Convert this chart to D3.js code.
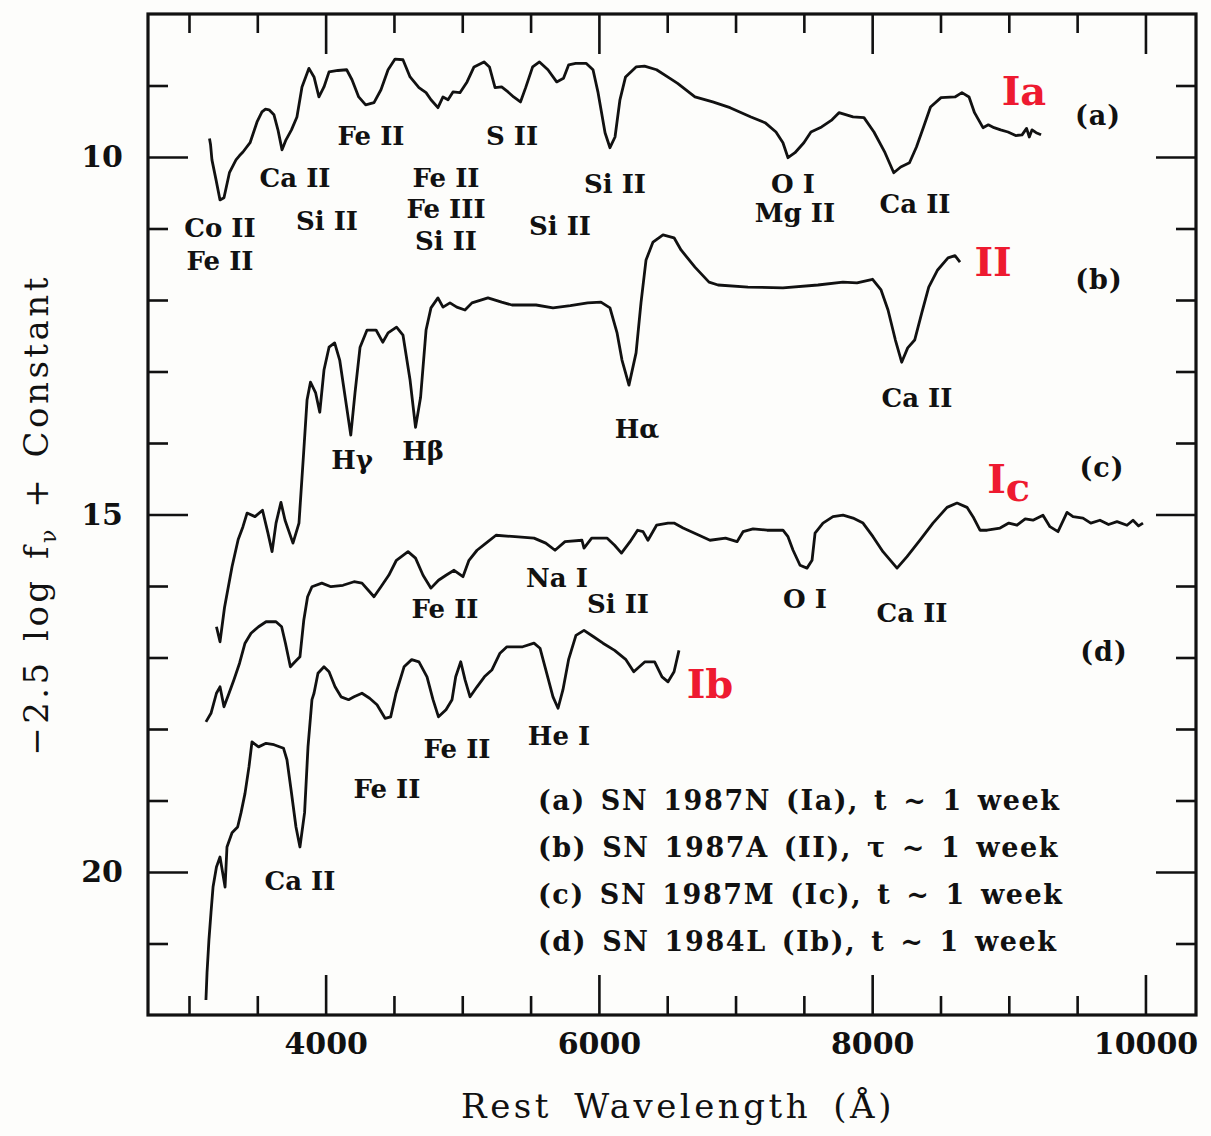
<!DOCTYPE html>
<html>
<head>
<meta charset="utf-8">
<script src="https://cdn.jsdelivr.net/npm/d3@7"></script>
<style>
body { margin: 0; background: #fdfdfb; }
text { font-family: "DejaVu Serif", serif; fill: #111; }
</style>
</head>
<body>
<div id="container"></div>
<script>
// spectra: [rest wavelength (A), -2.5 log f_nu + const]
const specA = [[3150,9.74],[3158,9.83],[3168,10.04],[3198,10.32],[3227,10.60],[3256,10.57],[3296,10.22],[3344,10.04],
    [3370,9.98],[3395,9.93],[3447,9.80],[3498,9.51],[3534,9.37],[3560,9.33],[3586,9.34],[3622,9.41],[3651,9.62],[3681,9.90],
    [3710,9.76],[3750,9.62],[3790,9.44],[3827,9.02],[3878,8.76],[3915,8.88],[3951,9.16],[3988,9.02],[4025,8.81],
    [4090,8.79],[4154,8.78],[4193,8.92],[4242,9.16],[4293,9.27],[4354,9.24],[4405,9.06],[4457,8.78],[4508,8.63],
    [4566,8.64],[4618,8.88],[4683,9.03],[4735,9.10],[4771,9.20],[4822,9.31],[4859,9.16],[4896,9.20],[4932,9.09],
    [4983,9.10],[5035,8.95],[5086,8.74],[5159,8.67],[5199,8.74],[5240,9.03],[5288,9.02],[5335,9.09],[5376,9.16],
    [5426,9.23],[5464,9.03],[5515,8.74],[5565,8.67],[5627,8.78],[5691,8.95],[5741,8.90],[5779,8.71],[5830,8.69],
    [5906,8.69],[5957,8.78],[5994,9.10],[6045,9.66],[6081,9.87],[6118,9.72],[6154,9.20],[6195,8.88],[6272,8.74],
    [6334,8.73],[6422,8.78],[6520,8.90],[6576,8.97],[6703,9.16],[6833,9.23],[6960,9.31],[7113,9.44],[7216,9.52],
    [7296,9.65],[7347,9.80],[7384,10.01],[7435,9.94],[7500,9.80],[7552,9.65],[7630,9.58],[7706,9.48],[7757,9.38],
    [7860,9.44],[7940,9.45],[8013,9.65],[8094,9.94],[8158,10.22],[8209,10.14],[8273,10.08],[8324,9.86],[8376,9.58],
    [8427,9.30],[8504,9.17],[8606,9.16],[8657,9.10],[8709,9.16],[8749,9.38],[8811,9.59],[8850,9.55],[8892,9.59],
    [8940,9.62],[8994,9.65],[9050,9.70],[9097,9.69],[9130,9.60],[9150,9.72],[9170,9.62],[9200,9.66],[9236,9.69]];

const specB = [[3201,16.57],[3227,16.78],[3260,16.30],[3315,15.73],[3360,15.35],[3395,15.17],[3425,14.98],[3483,15.03],
    [3538,14.94],[3578,15.26],[3608,15.52],[3637,15.12],[3673,14.83],[3703,15.08],[3761,15.40],[3805,15.12],
    [3839,14.14],[3864,13.40],[3889,13.15],[3927,13.30],[3957,13.57],[3988,12.98],[4025,12.66],[4066,12.60],
    [4103,12.84],[4154,13.50],[4184,13.89],[4215,13.30],[4252,12.66],[4303,12.42],[4369,12.42],[4418,12.59],
    [4457,12.46],[4519,12.38],[4566,12.49],[4618,13.12],[4658,13.78],[4695,13.36],[4735,12.42],[4771,12.11],
    [4822,11.97],[4859,12.10],[4910,12.04],[4960,12.10],[5020,12.14],[5071,12.04],[5188,11.97],[5288,12.03],
    [5364,12.07],[5540,12.07],[5664,12.11],[5791,12.08],[5918,12.04],[6015,12.03],[6081,12.11],[6133,12.46],
    [6169,12.84],[6220,13.19],[6272,12.74],[6308,12.04],[6345,11.44],[6396,11.19],[6469,11.09],[6550,11.13],
    [6601,11.30],[6703,11.54],[6806,11.75],[6872,11.79],[7091,11.82],[7347,11.83],[7603,11.79],[7786,11.75],
    [7889,11.76],[8003,11.71],[8065,11.86],[8116,12.14],[8170,12.56],[8216,12.87],[8260,12.67],[8311,12.56],
    [8363,12.18],[8414,11.82],[8479,11.58],[8555,11.41],[8606,11.38],[8643,11.47]];

const specC = [[3124,17.90],[3161,17.78],[3201,17.50],[3227,17.41],[3256,17.69],[3293,17.50],[3329,17.31],[3370,17.08],
    [3410,16.80],[3454,16.66],[3509,16.57],[3564,16.50],[3637,16.50],[3678,16.57],[3706,16.80],[3742,17.13],
    [3776,17.06],[3812,16.99],[3840,16.48],[3868,16.15],[3900,16.01],[3972,15.96],[4039,16.01],[4127,15.99],
    [4208,15.94],[4266,15.96],[4322,16.08],[4354,16.15],[4405,16.01],[4462,15.85],[4518,15.64],[4603,15.52],
    [4658,15.61],[4713,15.85],[4771,16.03],[4826,15.92],[4881,15.85],[4940,15.78],[5005,15.87],[5049,15.64],
    [5108,15.50],[5174,15.40],[5247,15.29],[5386,15.31],[5525,15.33],[5611,15.40],[5679,15.50],[5752,15.38],
    [5876,15.36],[5891,15.47],[5947,15.33],[6059,15.33],[6115,15.43],[6165,15.54],[6228,15.38],[6283,15.22],
    [6323,15.24],[6359,15.36],[6422,15.15],[6506,15.12],[6550,15.12],[6616,15.19],[6733,15.29],[6813,15.36],
    [6927,15.33],[7011,15.38],[7055,15.24],[7128,15.20],[7231,15.22],[7347,15.22],[7384,15.31],[7421,15.50],
    [7472,15.71],[7523,15.75],[7560,15.64],[7582,15.26],[7640,15.12],[7713,15.03],[7787,15.01],[7860,15.05],
    [7933,15.12],[8006,15.31],[8079,15.52],[8182,15.75],[8255,15.59],[8350,15.36],[8445,15.12],[8548,14.90],
    [8621,14.84],[8694,14.90],[8738,15.03],[8789,15.22],[8841,15.22],[8936,15.19],[9000,15.12],[9060,15.15],
    [9120,15.06],[9177,15.08],[9250,15.01],[9301,15.17],[9360,15.24],[9426,14.97],[9470,15.03],[9543,15.05],
    [9600,15.12],[9667,15.08],[9730,15.14],[9792,15.10],[9865,15.15],[9909,15.08],[9950,15.16],[9982,15.12]];

const specD = [[3124,21.79],[3132,21.41],[3146,20.95],[3161,20.57],[3176,20.21],[3201,19.93],[3227,19.79],[3264,20.21],
    [3278,19.65],[3315,19.45],[3356,19.37],[3381,19.17],[3410,18.90],[3439,18.53],[3461,18.18],[3509,18.25],
    [3564,18.20],[3622,18.22],[3692,18.27],[3717,18.43],[3747,18.85],[3783,19.37],[3812,19.65],[3846,19.17],
    [3871,18.25],[3900,17.59],[3915,17.50],[3944,17.22],[3988,17.13],[4025,17.20],[4069,17.41],[4113,17.55],
    [4168,17.59],[4208,17.55],[4266,17.50],[4322,17.57],[4376,17.66],[4435,17.85],[4476,17.83],[4515,17.50],
    [4574,17.13],[4630,17.03],[4683,17.06],[4742,17.27],[4786,17.59],[4826,17.83],[4881,17.73],[4925,17.59],
    [4952,17.27],[4989,17.06],[5020,17.31],[5057,17.55],[5108,17.41],[5162,17.27],[5218,17.17],[5276,16.94],
    [5327,16.85],[5442,16.85],[5525,16.80],[5569,16.87],[5611,17.17],[5664,17.55],[5701,17.71],[5737,17.45],
    [5778,17.03],[5832,16.69],[5891,16.62],[5961,16.71],[6030,16.80],[6115,16.90],[6198,17.03],[6255,17.20],
    [6337,17.06],[6408,17.06],[6462,17.27],[6506,17.34],[6550,17.20],[6586,16.90]];

const spectra = [specA, specB, specC, specD];

// line identifications: [text, wavelength, magnitude of baseline]
const lineLabels = [
    ["Fe II", 4332, 9.83], ["S II", 5364, 9.83], ["Ca II", 3776, 10.42], ["Fe II", 4881, 10.42],
    ["Si II", 6118, 10.50], ["Fe III", 4881, 10.85], ["Co II", 3227, 11.12], ["Si II", 4010, 11.02],
    ["Si II", 4881, 11.30], ["Si II", 5715, 11.09], ["Fe II", 3227, 11.58], ["O I", 7421, 10.50],
    ["Mg II", 7435, 10.91], ["Ca II", 8314, 10.78],
    ["Hγ", 4193, 14.36], ["Hβ", 4713, 14.24], ["Hα", 6279, 13.93], ["Ca II", 8328, 13.50],
    ["Na I", 5693, 16.01], ["Fe II", 4874, 16.45], ["Si II", 6140, 16.38], ["O I", 7508, 16.31], ["Ca II", 8292, 16.50],
    ["He I", 5708, 18.22], ["Fe II", 4962, 18.41], ["Fe II", 4449, 18.97], ["Ca II", 3812, 20.25]
];

const panelLabels = [["(a)", 9653, 9.55], ["(b)", 9660, 11.84], ["(c)", 9682, 14.47], ["(d)", 9697, 17.05]];
const typeLabels = [["Ia", 9111, 9.27], ["II", 8885, 11.66], ["I", 8999, 14.70, "c"], ["Ib", 6813, 17.57]];

const legendLines = [
    "(a) SN 1987N (Ia), t ~ 1 week",
    "(b) SN 1987A (II), τ ~ 1 week",
    "(c) SN 1987M (Ic), t ~ 1 week",
    "(d) SN 1984L (Ib), t ~ 1 week"
];

const xMajor = [4000, 6000, 8000, 10000];
const xMinor = [3000, 3500, 4500, 5000, 5500, 6500, 7000, 7500, 8500, 9000, 9500];
const yMajor = [10, 15, 20];
const yMinor = [9, 11, 12, 13, 14, 16, 17, 18, 19, 21];

function chart() {
    var width = 1211, height = 1136;
    var left = 148, right = 1196, top = 14, bottom = 1015;

    var x = d3.scaleLinear().domain([2700, 10370]).range([left, right]);
    var y = d3.scaleLinear().domain([8, 22]).range([top, bottom]);

    const svg = d3.select("div#container").append("svg")
        .attr("width", width)
        .attr("height", height)
        .attr("viewBox", [0, 0, width, height]);

    svg.append("rect").attr("width", width).attr("height", height).attr("fill", "#fdfdfb");

    // ticks, all pointing into the box
    function ticks(axis, values, size, pos, labels) {
        var g = svg.append("g")
            .attr("transform", pos)
            .call(axis.tickValues(values).tickSize(-size).tickPadding(labels ? 18 : 0)
                .tickFormat(labels ? d3.format("d") : ""));
        g.select(".domain").remove();
        g.selectAll("line").attr("stroke", "#111").attr("stroke-width", 2.6);
        g.selectAll("text")
            .style("font-family", "DejaVu Serif")
            .style("font-weight", "bold")
            .style("font-size", "30px")
            .attr("fill", "#111");
        return g;
    }

    ticks(d3.axisBottom(x), xMajor, 40, `translate(0,${bottom})`, true);
    ticks(d3.axisBottom(x), xMinor, 19, `translate(0,${bottom})`, false);
    ticks(d3.axisTop(x), xMajor, 40, `translate(0,${top})`, false);
    ticks(d3.axisTop(x), xMinor, 19, `translate(0,${top})`, false);
    var yl = ticks(d3.axisLeft(y), yMajor, 40, `translate(${left},0)`, true);
    yl.selectAll("text").attr("x", -25);
    ticks(d3.axisLeft(y), yMinor, 20, `translate(${left},0)`, false);
    ticks(d3.axisRight(y), yMajor, 40, `translate(${right},0)`, false);
    ticks(d3.axisRight(y), yMinor, 20, `translate(${right},0)`, false);

    svg.append("rect")
        .attr("x", left).attr("y", top)
        .attr("width", right - left).attr("height", bottom - top)
        .attr("fill", "none")
        .attr("stroke", "#111")
        .attr("stroke-width", 3.2);

    const line = d3.line().x(d => x(d[0])).y(d => y(d[1]));

    svg.append("g")
        .attr("fill", "none")
        .attr("stroke", "#111")
        .attr("stroke-width", 2.8)
        .attr("stroke-linejoin", "round")
        .selectAll("path")
        .data(spectra)
        .join("path")
        .attr("d", line);

    svg.append("g")
        .selectAll("text")
        .data(lineLabels)
        .join("text")
        .attr("x", d => x(d[1]))
        .attr("y", d => y(d[2]))
        .attr("text-anchor", "middle")
        .style("font-size", "26px")
        .style("font-weight", "bold")
        .text(d => d[0]);

    svg.append("g")
        .selectAll("text")
        .data(panelLabels)
        .join("text")
        .attr("x", d => x(d[1]))
        .attr("y", d => y(d[2]))
        .attr("text-anchor", "middle")
        .style("font-size", "27px")
        .style("font-weight", "bold")
        .style("letter-spacing", "1px")
        .text(d => d[0]);

    var red = svg.append("g")
        .selectAll("text")
        .data(typeLabels)
        .join("text")
        .attr("x", d => x(d[1]))
        .attr("y", d => y(d[2]))
        .attr("text-anchor", "middle")
        .style("font-size", "40px")
        .style("font-weight", "bold")
        .style("fill", "#ee1a30")
        .text(d => d[0]);
    red.filter(d => d[3]).append("tspan")
        .attr("dy", 8)
        .text(d => d[3]);

    svg.append("g")
        .selectAll("text")
        .data(legendLines)
        .join("text")
        .attr("x", 538)
        .attr("y", (d, i) => 810 + i * 47)
        .style("font-size", "27px")
        .style("font-weight", "bold")
        .style("letter-spacing", "1.6px")
        .style("word-spacing", "4px")
        .text(d => d);

    svg.append("text")
        .attr("x", 678)
        .attr("y", 1118)
        .attr("text-anchor", "middle")
        .style("font-size", "34px")
        .style("letter-spacing", "3.5px")
        .style("word-spacing", "8px")
        .text("Rest Wavelength (Å)");

    var yt = svg.append("text")
        .attr("transform", "translate(48,515) rotate(-90)")
        .attr("text-anchor", "middle")
        .style("font-size", "34px")
        .style("letter-spacing", "3.5px")
        .style("word-spacing", "4px");
    yt.append("tspan").text("−2.5 log f");
    yt.append("tspan").attr("dy", 8).style("font-size", "22px").text("ν");
    yt.append("tspan").attr("dy", -8).text(" + Constant");
}

chart();
</script>
</body>
</html>
